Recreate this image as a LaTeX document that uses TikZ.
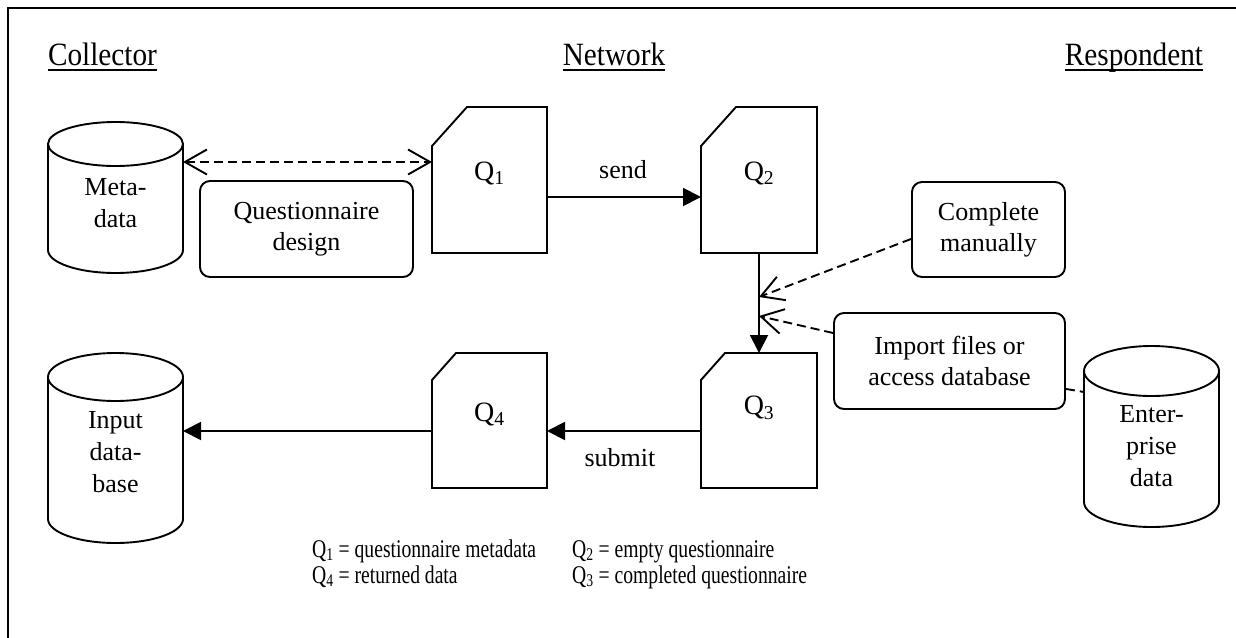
\documentclass[tikz,border=0pt]{standalone}
\usepackage{fontspec}
\setmainfont{Liberation Serif}
\newfontfamily\legendfont[FakeStretch=0.77]{Liberation Serif}
\newfontfamily\headfont[FakeStretch=0.9]{Liberation Serif}
\usetikzlibrary{arrows.meta,calc}
\tikzset{
  openhead/.tip={Straight Barb[length=22pt,width=25pt,line width=1.9pt]},
  filledhead/.tip={Triangle[length=18pt,width=18pt]},
}
\begin{document}
\begin{tikzpicture}[x=1pt,y=-1pt,
  outline/.style={line width=1.9pt},
  roundbox/.style={draw, line width=1.9pt, rounded corners=10pt, align=center, inner sep=0pt, font=\fontsize{26}{31}\selectfont},
  holder/.style={inner sep=0pt, outer sep=0pt, draw=none},
  cyltext/.style={align=center, font=\fontsize{26}{32}\selectfont},
  qtext/.style={font=\fontsize{28}{32}\selectfont},
  head/.style={font=\headfont\fontsize{32.5}{36}\selectfont, anchor=base, inner sep=0pt},
  legend/.style={font=\legendfont\fontsize{25.5}{28}\selectfont, anchor=base west, inner sep=0pt},
  flowarrow/.style={line width=1.9pt, -filledhead},
  dashline/.style={line width=1.9pt, dash pattern=on 9pt off 5pt},
  edgelabel/.style={font=\fontsize{26}{30}\selectfont}
]
\useasboundingbox (0,0) rectangle (1236,637);
% frame
\draw[line width=2.2pt] (8,640) -- (8,8) -- (1240,8);

% headings
\node[head] (hcol) at (102.5,65) {Collector};
\node[head] (hnet) at (614,65) {Network};
\node[head] (hres) at (1134,65) {Respondent};
\foreach \h in {hcol,hnet,hres}
  \draw[line width=2pt] ([yshift=-4.5pt]\h.base west) -- ([yshift=-4.5pt]\h.base east);

% cylinders
\node[holder, minimum width=135pt, minimum height=151pt,
  label={[cyltext,yshift=-6pt]center:{Meta-\\data}}] (meta) at (115.5,197.5) {};
\draw[outline] ($(meta.north)+(0,22)$) ellipse [x radius=67.5pt, y radius=22pt];
\draw[outline] ($(meta.north west)+(0,22)$) -- ($(meta.south west)+(0,-23)$)
  arc[start angle=180, end angle=360, x radius=67.5pt, y radius=23pt] -- ($(meta.north east)+(0,22)$);

\node[holder, minimum width=135pt, minimum height=190pt,
  label={[cyltext,yshift=-4pt]center:{Input\\data-\\base}}] (indb) at (115.5,448) {};
\draw[outline] ($(indb.north)+(0,24)$) ellipse [x radius=67.5pt, y radius=24pt];
\draw[outline] ($(indb.north west)+(0,24)$) -- ($(indb.south west)+(0,-24)$)
  arc[start angle=180, end angle=360, x radius=67.5pt, y radius=24pt] -- ($(indb.north east)+(0,24)$);

\node[holder, minimum width=135pt, minimum height=181pt,
  label={[cyltext,yshift=-9.5pt]center:{Enter-\\prise\\data}}] (ent) at (1151.5,436.5) {};
\draw[outline] ($(ent.north)+(0,25)$) ellipse [x radius=67.5pt, y radius=25pt];
\draw[outline] ($(ent.north west)+(0,25)$) -- ($(ent.south west)+(0,-25)$)
  arc[start angle=180, end angle=360, x radius=67.5pt, y radius=25pt] -- ($(ent.north east)+(0,25)$);

% questionnaire documents
\node[holder, minimum width=115pt, minimum height=146pt,
  label={[qtext,yshift=7pt]center:Q\textsubscript{1}}] (q1) at (489.5,180) {};
\draw[outline] ($(q1.north west)+(0,39)$) -- ($(q1.north west)+(35,0)$) -- (q1.north east) -- (q1.south east) -- (q1.south west) -- cycle;

\node[holder, minimum width=116pt, minimum height=146pt,
  label={[qtext,yshift=7pt]center:Q\textsubscript{2}}] (q2) at (759,180) {};
\draw[outline] ($(q2.north west)+(0,39)$) -- ($(q2.north west)+(35,0)$) -- (q2.north east) -- (q2.south east) -- (q2.south west) -- cycle;

\node[holder, minimum width=116pt, minimum height=135pt,
  label={[qtext,yshift=12.5pt]center:Q\textsubscript{3}}] (q3) at (759,420.5) {};
\draw[outline] ($(q3.north west)+(0,27)$) -- ($(q3.north west)+(24,0)$) -- (q3.north east) -- (q3.south east) -- (q3.south west) -- cycle;

\node[holder, minimum width=115pt, minimum height=135pt,
  label={[qtext,yshift=6.5pt]center:Q\textsubscript{4}}] (q4) at (489.5,420.5) {};
\draw[outline] ($(q4.north west)+(0,27)$) -- ($(q4.north west)+(24,0)$) -- (q4.north east) -- (q4.south east) -- (q4.south west) -- cycle;

% rounded boxes
\node[roundbox, minimum width=213pt, minimum height=96pt] (qd) at (306.5,229) {Questionnaire\\design};
\node[roundbox, minimum width=153pt, minimum height=95pt] (cm) at (988.5,229.5) {Complete\\manually};
\node[roundbox, minimum width=231pt, minimum height=96pt] (imp) at (949.5,361) {Import files or\\access database};

% connectors
\draw[dashline, openhead-openhead] ($(meta.north east)+(0,40)$) -- ($(q1.north west)+(0,55)$);
\draw[flowarrow] ($(q1.south east)+(0,-56)$) -- ($(q2.south west)+(0,-56)$);
\node[edgelabel] (sendlbl) at (623,170) {send};
\draw[flowarrow] (q2.south) -- (q3.north);
\coordinate (hit1) at (759,297);
\coordinate (hit2) at (759,316);
\draw[dashline, -openhead] ($(cm.west)+(0,9.5)$) -- (hit1);
\draw[dashline, -openhead] ($(imp.west)+(0,-28)$) -- (hit2);
\draw[dashline] ($(imp.south east)+(0,-21)$) -- ($(ent.north west)+(0,46)$);
\draw[flowarrow] ($(q3.south west)+(0,-57)$) -- ($(q4.south east)+(0,-57)$);
\node[edgelabel] (submitlbl) at (620,458) {submit};
\draw[flowarrow] ($(q4.south west)+(0,-57)$) -- ($(indb.east)+(0,-17)$);

% legend
\node[legend] (l1) at (312,557) {Q\textsubscript{1} = questionnaire metadata};
\node[legend] (l2) at (572,557) {Q\textsubscript{2} = empty questionnaire};
\node[legend] (l4) at (312,583) {Q\textsubscript{4} = returned data};
\node[legend] (l3) at (572,583) {Q\textsubscript{3} = completed questionnaire};
\end{tikzpicture}
\end{document}
